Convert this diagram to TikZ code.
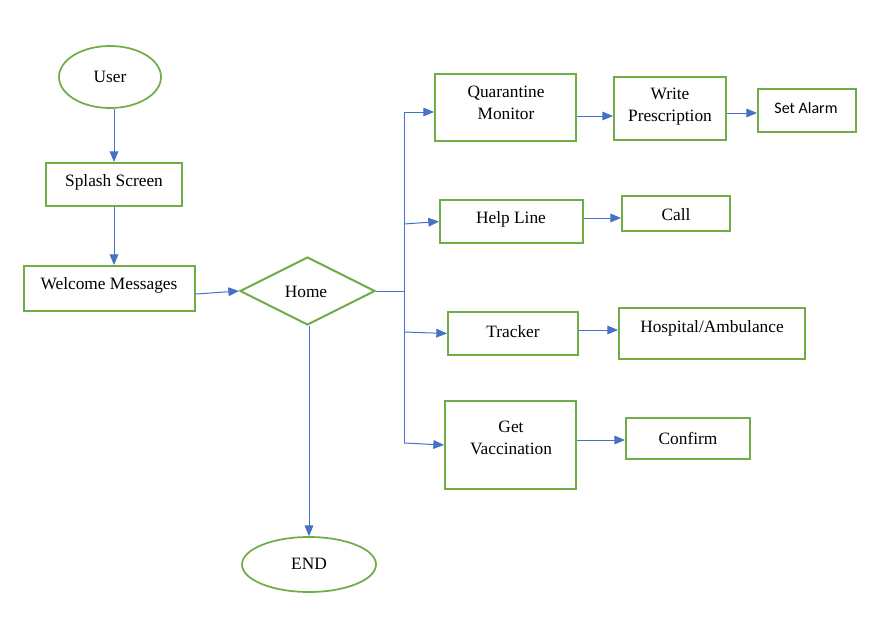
\documentclass[tikz,border=0pt]{standalone}
\usepackage{fontspec}
\setmainfont{Liberation Serif}
\newfontfamily\calib{Carlito}
\usetikzlibrary{shapes.geometric,arrows.meta,calc}
\definecolor{gr}{HTML}{70AD47}
\definecolor{bl}{HTML}{4472C4}
\begin{document}
\begin{tikzpicture}[x=0.75pt,y=-0.75pt,
  shp/.style={draw=gr, line width=1.5pt, inner sep=0pt, fill=white},
  bx/.style 2 args={shp, rectangle, minimum width=0.75pt*#1, minimum height=0.75pt*#2},
  el/.style 2 args={shp, line width=1.3pt, ellipse, minimum width=0.75pt*#1, minimum height=0.75pt*#2},
  txt/.style={font=\fontsize{13}{16.5}\selectfont, align=center, inner sep=0pt, yshift=-1pt},
  ar/.style={draw=bl, line width=0.75pt, -{Triangle[length=8pt,width=6.5pt]}},
  ln/.style={draw=bl, line width=0.75pt}]
\useasboundingbox (0,0) rectangle (884,642);
\fill[white] (0,0) rectangle (884,642);

% shapes
\node[el={102}{62}] (us) at (110,77) {};
\node[bx={136}{43}] (sp) at (114,184.5) {};
\node[bx={171}{45}] (wm) at (109.5,288.5) {};
\node[shp, diamond, aspect=2, minimum width=0.75pt*135, minimum height=0.75pt*68] (home) at (307.5,291) {};
\node[el={134}{55}] (en) at (309,564.5) {};
\node[bx={141}{67}] (qm) at (505.5,107.5) {};
\node[bx={112}{63}] (wp) at (670,108.5) {};
\node[bx={98}{43}] (sa) at (807,110.5) {};
\node[bx={143}{43}] (hl) at (511.5,221.5) {};
\node[bx={108}{35}] (ca) at (676,213.5) {};
\node[bx={130}{43}] (tr) at (513,333.5) {};
\node[bx={186}{51}] (ho) at (712,333.5) {};
\node[bx={131}{88}] (gv) at (510.5,445) {};
\node[bx={124}{41}] (co) at (688,438.5) {};

% texts
\node[txt] (tus) at (110,76) {User};
\node[txt] (tsp) at (114,181) {Splash Screen};
\node[txt] (twm) at (109,284) {Welcome Messages};
\node[txt] (thome) at (306,291) {Home};
\node[txt] (ten) at (309,562) {END};
\node[txt] (tqm) at (506,102) {Quarantine\\Monitor};
\node[txt] (twp) at (670,105) {Write\\Prescription};
\node[txt, font=\calib\fontsize{12}{14}\selectfont] (tsa) at (806,107) {Set Alarm};
\node[txt] (thl) at (511,218) {Help Line};
\node[txt] (tca) at (676,213) {Call};
\node[txt] (ttr) at (513,330) {Tracker};
\node[txt] (tho) at (712,327) {Hospital/Ambulance};
\node[txt] (tgv) at (511,437) {Get\\Vaccination};
\node[txt] (tco) at (688,437) {Confirm};

% junction coordinates
\coordinate (j) at (404,291);
\coordinate (b1) at (404,112);
\coordinate (b2) at (404,224);
\coordinate (b3) at (404,332);
\coordinate (b4) at (404,443);
\coordinate (wmo) at ($(wm.east)+(0,5.5)$);
\coordinate (qmo) at ($(qm.east)+(0,8.5)$);
\coordinate (wpo) at ($(wp.east)+(0,4.5)$);
\coordinate (hlo) at ($(hl.east)+(0,-3.5)$);
\coordinate (tro) at ($(tr.east)+(0,-3.5)$);
\coordinate (gvo) at ($(gv.east)+(0,-5)$);

% connectors
\draw[ar] (us.south -| sp.north) -- (sp.north);
\draw[ar] (sp.south) -- (sp.south |- wm.north);
\draw[ar] (wmo) -- (home.west);
\draw[ar] (en.north |- home.south) -- (en.north);
\draw[ln] (home.east) -- (j);
\draw[ln] (b1) -- (b4);
\draw[ar] (b1) -- (b1 -| qm.west);
\draw[ar] (b2) -- (hl.west);
\draw[ar] (b3) -- (tr.west);
\draw[ar] (b4) -- (gv.west);
\draw[ar] (qmo) -- (qmo -| wp.west);
\draw[ar] (wpo) -- (wpo -| sa.west);
\draw[ar] (hlo) -- (hlo -| ca.west);
\draw[ar] (tro) -- (tro -| ho.west);
\draw[ar] (gvo) -- (gvo -| co.west);
\end{tikzpicture}
\end{document}
